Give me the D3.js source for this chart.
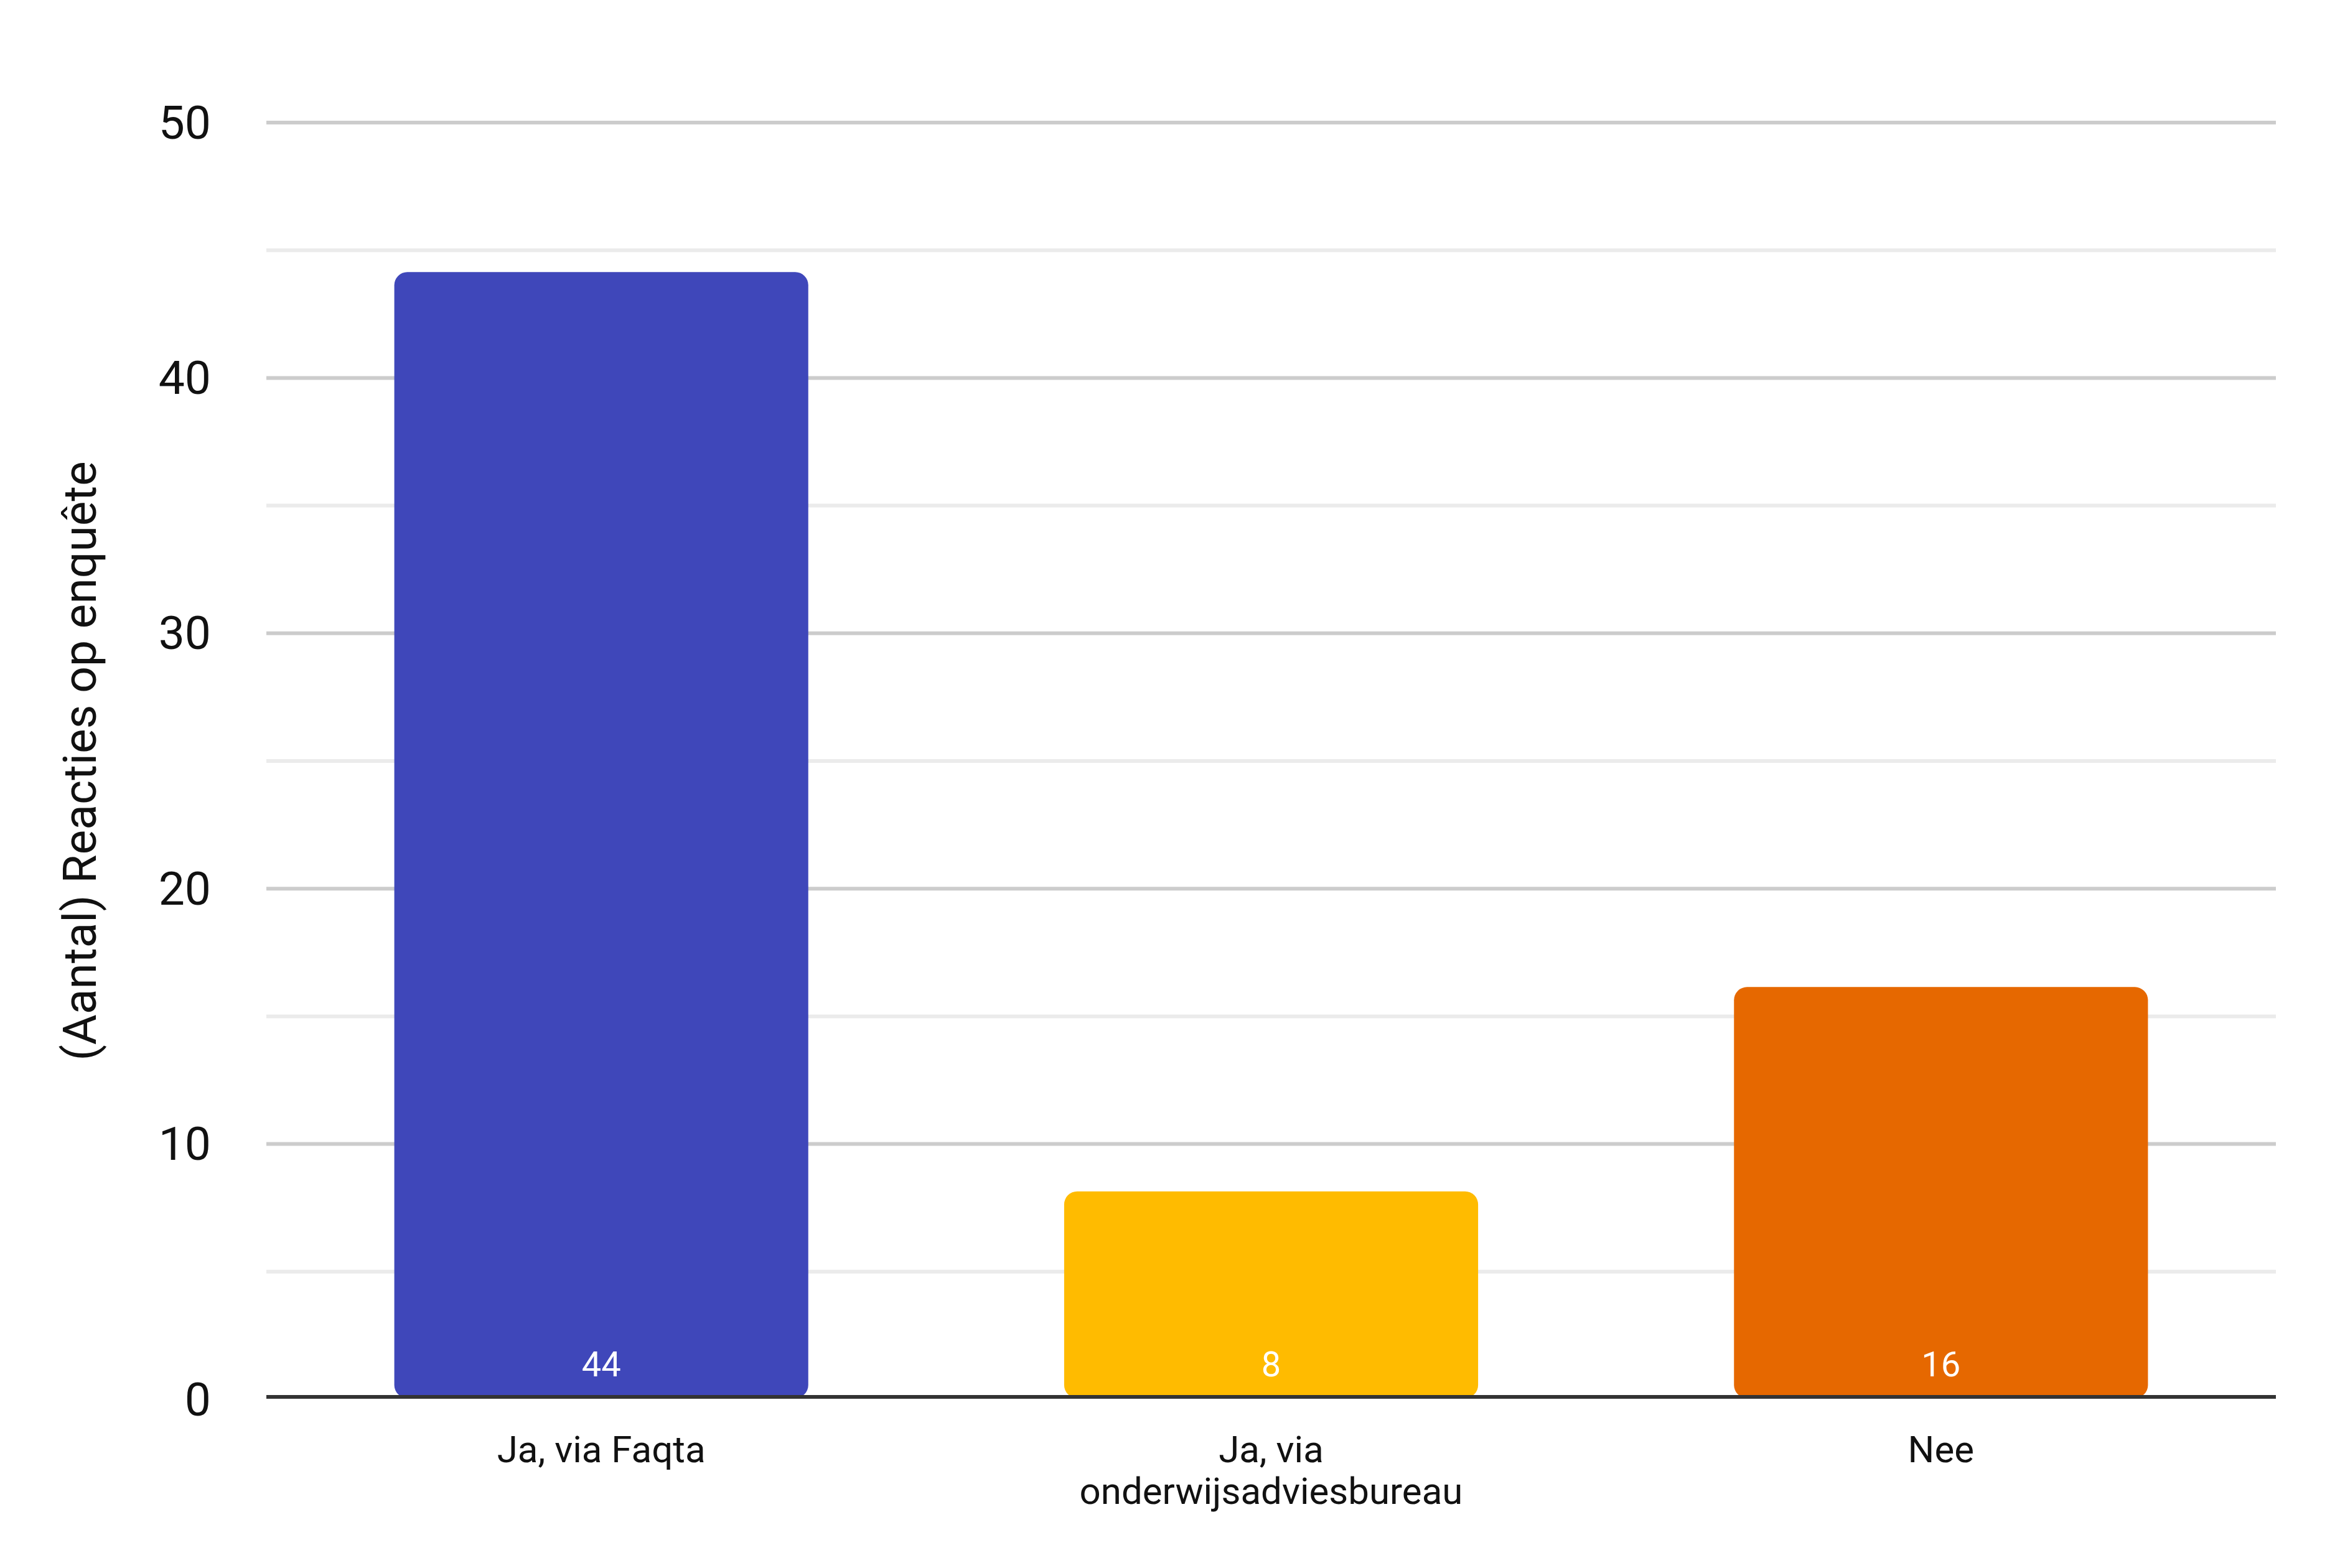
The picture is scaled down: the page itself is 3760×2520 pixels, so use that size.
<!DOCTYPE html>
<html>
<head>
<meta charset="utf-8">
<script src="https://cdn.jsdelivr.net/npm/d3@7"></script>
<style>
  html, body { margin: 0; padding: 0; background: #ffffff; }
  svg { display: block; }
  text { font-family: Roboto, "Liberation Sans", "Noto Sans", sans-serif; font-weight: 400; }
</style>
</head>
<body>
<svg id="chart"></svg>
<script>
// ---- data ----
const categories = ["Ja, via Faqta", "Ja, via onderwijsadviesbureau", "Nee"];
const values = [44, 8, 16];
const barColors = ["#3f47ba", "#ffbb00", "#e66800"];
const majorTicks = [0, 10, 20, 30, 40, 50];
const minorTicks = [5, 15, 25, 35, 45];
const yTitle = "(Aantal) Reacties op enquête";

(function () {
// ---- layout ----
const W = 3760, H = 2520;
const mLeft = 428, mRight = 3657, mTop = 197, mBottom = 2249;

const svg = d3.select("#chart").attr("width", W).attr("height", H)
  .attr("viewBox", `0 0 ${W} ${H}`);

const x = d3.scaleBand().domain(categories).range([mLeft, mRight])
  .paddingInner(0.382).paddingOuter(0.191);
const y = d3.scaleLinear().domain([0, 50]).range([mBottom, mTop]);
const baseY = y(0) - 4;

// minor grid
svg.append("g").selectAll("line").data(minorTicks).join("line")
  .attr("x1", mLeft).attr("x2", mRight)
  .attr("y1", d => y(d)).attr("y2", d => y(d))
  .attr("stroke", "#ebebeb").attr("stroke-width", 6);

// major grid (excluding 0)
svg.append("g").selectAll("line").data(majorTicks.filter(d => d !== 0)).join("line")
  .attr("x1", mLeft).attr("x2", mRight)
  .attr("y1", d => y(d)).attr("y2", d => y(d))
  .attr("stroke", "#cccccc").attr("stroke-width", 6);

// bars
const data = categories.map((c, i) => ({ c, v: values[i], color: barColors[i] }));
svg.append("g").selectAll("rect").data(data).join("rect")
  .attr("x", d => x(d.c))
  .attr("y", d => y(d.v) - 6)
  .attr("width", x.bandwidth())
  .attr("height", d => baseY - (y(d.v) - 6) + 2)
  .attr("rx", 21).attr("ry", 21)
  .attr("fill", d => d.color);

// baseline
svg.append("line")
  .attr("x1", mLeft).attr("x2", mRight)
  .attr("y1", baseY).attr("y2", baseY)
  .attr("stroke", "#333333").attr("stroke-width", 6);

// value labels
svg.append("g").selectAll("text").data(data).join("text")
  .attr("x", d => x(d.c) + x.bandwidth() / 2)
  .attr("y", baseY - 33)
  .attr("text-anchor", "middle")
  .attr("fill", "#ffffff")
  .attr("font-size", 56)
  .attr("font-weight", 300)
  .text(d => d.v);

// y axis labels
const yAxis = d3.axisLeft(y).tickValues(majorTicks).tickSize(0).tickPadding(0);
const gy = svg.append("g").attr("transform", `translate(339,0)`).call(yAxis);
gy.select(".domain").remove();
gy.selectAll("text")
  .attr("font-size", 75)
  .attr("fill", "#111111")
  .attr("font-family", "Roboto, 'Liberation Sans', sans-serif")
  .attr("font-weight", 300)
  .attr("x", 0)
  .attr("dy", null)
  .attr("y", 25)
  .attr("text-anchor", "end");

// x category labels with wrapping
const xl = svg.append("g").selectAll("text").data(categories).join("text")
  .attr("x", d => x(d) + x.bandwidth() / 2)
  .attr("y", 2350)
  .attr("text-anchor", "middle")
  .attr("font-size", 60)
  .attr("fill", "#111111");

xl.each(function(d) {
  const t = d3.select(this);
  const words = d.split(" ");
  const maxW = x.bandwidth();
  let lines = [];
  let line = [];
  const probe = t.append("tspan");
  words.forEach(w => {
    const test = line.concat([w]).join(" ");
    probe.text(test);
    if (probe.node().getComputedTextLength() > maxW && line.length) {
      lines.push(line.join(" "));
      line = [w];
    } else {
      line.push(w);
    }
  });
  lines.push(line.join(" "));
  probe.remove();
  const cx = x(d) + x.bandwidth() / 2;
  lines.forEach((ln, i) => {
    t.append("tspan").attr("x", cx).attr("dy", i === 0 ? 0 : 67).text(ln);
  });
});

// y title
svg.append("text")
  .attr("transform", `translate(154, ${(mTop + mBottom) / 2}) rotate(-90)`)
  .attr("text-anchor", "middle")
  .attr("font-size", 75)
  .attr("fill", "#111111")
  .text(yTitle);
})();
</script>
</body>
</html>
